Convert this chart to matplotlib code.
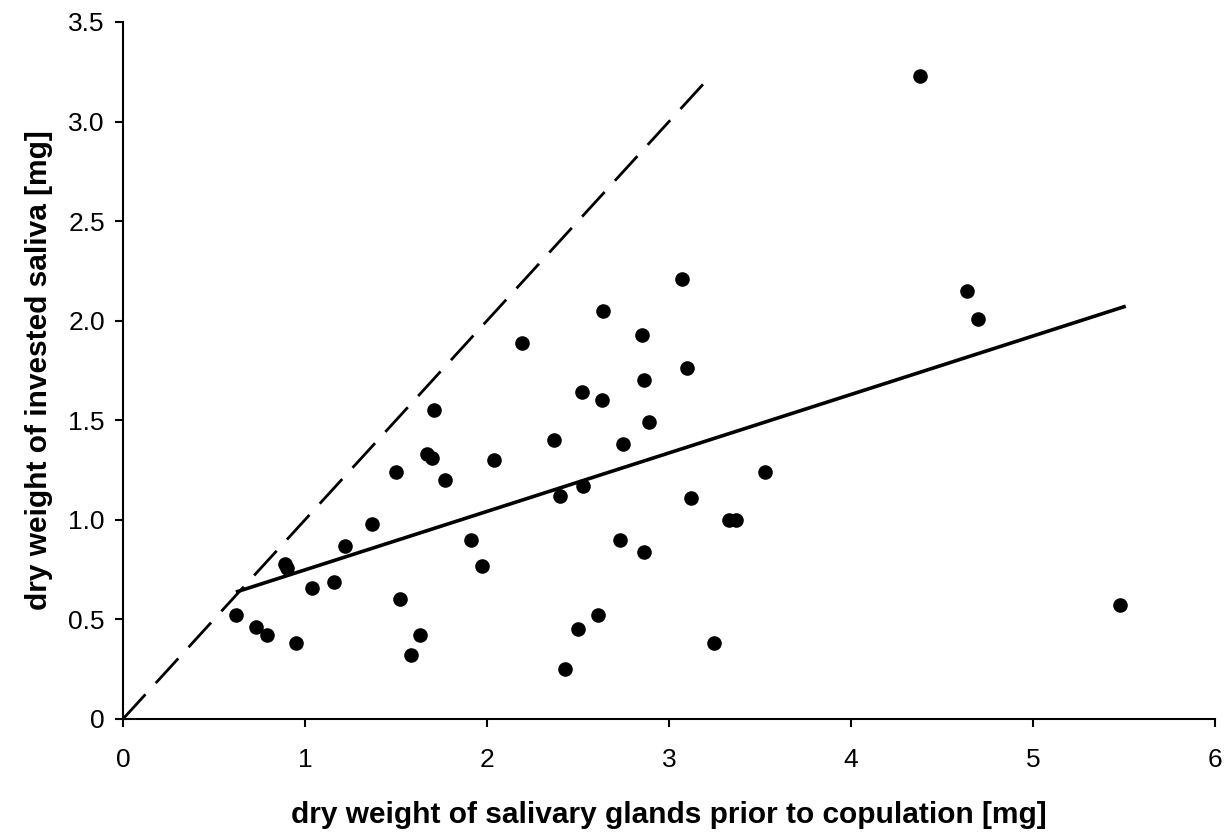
import matplotlib
matplotlib.use("Agg")
import matplotlib.pyplot as plt

# dry weight of salivary glands prior to copulation [mg]
gland_weight = [
    0.62, 0.73, 0.79, 0.95, 0.89, 0.90, 1.04, 1.16, 1.22, 1.37,
    1.52, 1.58, 1.63, 1.50, 1.67, 1.70, 1.71, 1.77, 1.91, 1.97,
    2.04, 2.19, 2.37, 2.40, 2.43, 2.50, 2.52, 2.53, 2.61, 2.63,
    2.64, 2.73, 2.75, 2.85, 2.86, 2.86, 2.89, 3.07, 3.10, 3.12,
    3.25, 3.33, 3.37, 3.53, 4.38, 4.64, 4.70, 5.48
]

# dry weight of invested saliva [mg]
saliva_weight = [
    0.52, 0.46, 0.42, 0.38, 0.78, 0.76, 0.66, 0.69, 0.87, 0.98,
    0.60, 0.32, 0.42, 1.24, 1.33, 1.31, 1.55, 1.20, 0.90, 0.77,
    1.30, 1.89, 1.40, 1.12, 0.25, 0.45, 1.64, 1.17, 0.52, 1.60,
    2.05, 0.90, 1.38, 1.93, 1.70, 0.84, 1.49, 2.21, 1.76, 1.11,
    0.38, 1.00, 1.00, 1.24, 3.23, 2.15, 2.01, 0.57
]

# regression line end points
fit_x = [0.63, 5.50]
fit_y = [0.64, 2.07]

# 1:1 line
ref_x = [0.0, 3.2]
ref_y = [0.0, 3.2]

x_ticks = [0, 1, 2, 3, 4, 5, 6]
x_labels = ["0", "1", "2", "3", "4", "5", "6"]
y_ticks = [0, 0.5, 1.0, 1.5, 2.0, 2.5, 3.0, 3.5]
y_labels = ["0", "0.5", "1.0", "1.5", "2.0", "2.5", "3.0", "3.5"]

plt.rcParams["font.family"] = ["Liberation Sans", "DejaVu Sans"]

fig = plt.figure(figsize=(12.31, 8.36), dpi=100)
ax = fig.add_axes([0.0999, 0.140, 0.8871, 0.8337])

ax.plot(ref_x, ref_y, color="black", linewidth=2.0,
        dashes=(12, 5.5), solid_capstyle="butt", dash_capstyle="butt")
ax.plot(fit_x, fit_y, color="black", linewidth=2.6)
ax.plot(gland_weight, saliva_weight, "o", color="black",
        markersize=10.5, markeredgewidth=0)

ax.set_xlim(0, 6)
ax.set_ylim(0, 3.5)
ax.set_xticks(x_ticks)
ax.set_xticklabels(x_labels)
ax.set_yticks(y_ticks)
ax.set_yticklabels(y_labels)

for side in ["top", "right"]:
    ax.spines[side].set_visible(False)
for side in ["left", "bottom"]:
    ax.spines[side].set_linewidth(1.5)

ax.tick_params(axis="x", direction="out", length=6, width=1.5,
               labelsize=19, pad=15)
ax.tick_params(axis="y", direction="out", length=6, width=1.5,
               labelsize=19, pad=7)

ax.set_xlabel("dry weight of salivary glands prior to copulation [mg]",
              fontsize=21.5, fontweight="bold", labelpad=21)
ax.set_ylabel("dry weight of invested saliva [mg]",
              fontsize=21.5, fontweight="bold", labelpad=11)

fig.savefig("out.png", dpi=100)
